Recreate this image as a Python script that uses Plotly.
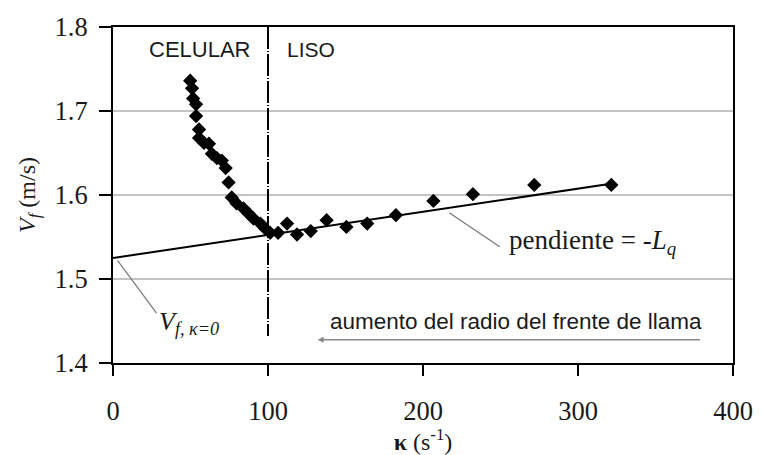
import plotly.graph_objects as go

# Data (kappa in 1/s, flame speed in m/s)
kappa = [49.8, 51.0, 51.7, 53.6, 53.6, 55.5, 55.5, 58.7, 61.9, 63.8, 67.0, 70.2, 72.7,
         74.6, 76.6, 79.7, 84.2, 87.4, 90.6, 95.1, 98.2, 101.4, 106.5, 112.3, 118.7,
         127.6, 137.8, 150.6, 164.0, 182.5, 206.7, 232.2, 271.8, 321.5]
vf = [1.736, 1.727, 1.715, 1.708, 1.694, 1.678, 1.668, 1.662, 1.661, 1.649, 1.644, 1.641, 1.632,
      1.615, 1.597, 1.590, 1.584, 1.578, 1.572, 1.566, 1.560, 1.555, 1.555, 1.566, 1.553,
      1.557, 1.570, 1.562, 1.566, 1.576, 1.593, 1.601, 1.612, 1.612]

fit_x = [0, 320]
fit_y = [1.525, 1.613]

split_x = [100, 100]
split_y = [1.8, 1.432]

arrow_x = [379.6, 132]
arrow_y = [1.4277, 1.4277]

x_ticks = [0, 100, 200, 300, 400]
y_ticks = [1.4, 1.5, 1.6, 1.7, 1.8]

serif = "Liberation Serif, Times New Roman, serif"
sans = "Liberation Sans, Arial, sans-serif"
ink = "#1a1a1a"

fig = go.Figure()

fig.add_trace(go.Scatter(x=fit_x, y=fit_y, mode="lines",
                         line=dict(color="black", width=2), hoverinfo="skip"))
fig.add_trace(go.Scatter(x=split_x, y=split_y, mode="lines",
                         line=dict(color="black", width=2, dash="22px,2px,1px,2px"),
                         hoverinfo="skip"))
fig.add_trace(go.Scatter(x=kappa, y=vf, mode="markers",
                         marker=dict(symbol="diamond", size=11, color="black")))

# arrow for "aumento del radio"
fig.add_annotation(x=arrow_x[1], y=arrow_y[1], ax=arrow_x[0], ay=arrow_y[0],
                   xref="x", yref="y", axref="x", ayref="y", text="",
                   showarrow=True, arrowhead=2, arrowsize=0.8, arrowwidth=1.5,
                   arrowcolor="#888888")

fig.add_annotation(x=216.9, y=1.579, ax=52, ay=35, axref="pixel", ayref="pixel",
                   xref="x", yref="y", text="", showarrow=True, arrowhead=0,
                   arrowwidth=1.2, arrowcolor="#777777")
fig.add_annotation(x=3, y=1.522, ax=40, ay=54, axref="pixel", ayref="pixel",
                   xref="x", yref="y", text="", showarrow=True, arrowhead=0,
                   arrowwidth=1.2, arrowcolor="#777777")

fig.update_layout(
    width=765, height=455,
    margin=dict(l=113, r=25, t=25, b=91),
    paper_bgcolor="white", plot_bgcolor="white",
    showlegend=False,
    font=dict(family=serif, color=ink, size=24),
    xaxis=dict(range=[0, 400], tickvals=x_ticks, ticktext=[str(v) for v in x_ticks],
               showgrid=False, zeroline=False,
               showline=True, linecolor="black", linewidth=2, mirror=True,
               ticks="outside", ticklen=11, tickwidth=2, tickcolor="black",
               ticklabelstandoff=12,
               tickfont=dict(family=serif, size=26.5, color=ink),
               title=dict(text="<b>κ</b> (s<sup>-1</sup>)",
                          font=dict(family=serif, size=24, color=ink), standoff=0)),
    yaxis=dict(range=[1.4, 1.8], tickvals=y_ticks, ticktext=[f"{v:.1f}" for v in y_ticks],
               showgrid=True, gridcolor="#c4c4c4", gridwidth=1.5, zeroline=False,
               showline=True, linecolor="black", linewidth=2, mirror=True,
               ticks="outside", ticklen=12, tickwidth=2, tickcolor="black",
               ticklabelstandoff=6,
               tickfont=dict(family=serif, size=26.5, color=ink),
               title=dict(text="<i>V<sub>f</sub></i> (m/s)",
                          font=dict(family=serif, size=24, color=ink), standoff=12)),
)

fig.add_annotation(x=55.5, y=1.773, xref="x", yref="y", text="CELULAR",
                   showarrow=False, font=dict(family=sans, size=22, color=ink))
fig.add_annotation(x=127.6, y=1.773, xref="x", yref="y", text="LISO",
                   showarrow=False, font=dict(family=sans, size=21, color=ink))
fig.add_annotation(x=254.5, y=1.544, xref="x", yref="y", xanchor="left",
                   text="pendiente = -<i>L</i><sub><i>q</i></sub>",
                   showarrow=False, font=dict(family=serif, size=27, color=ink))
fig.add_annotation(x=28.7, y=1.4472, xref="x", yref="y", xanchor="left",
                   text="<i>V</i><sub><i>f, κ=0</i></sub>",
                   showarrow=False, font=dict(family=serif, size=26, color=ink))
fig.add_annotation(x=138.4, y=1.4496, xref="x", yref="y", xanchor="left",
                   text="aumento del radio del frente de llama",
                   showarrow=False, font=dict(family=sans, size=22.5, color=ink))

fig.write_html("out.html")
